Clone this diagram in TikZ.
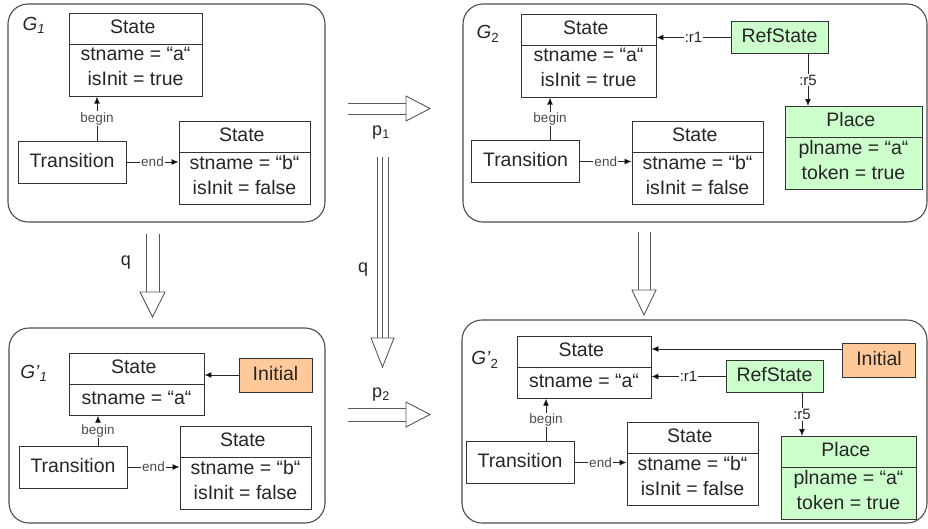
\documentclass[tikz,border=0pt]{standalone}
\usepackage{fontspec}
\setmainfont{Liberation Sans}
\setsansfont{Liberation Sans}
\RequirePackage{xcolor}
\tikzset{every picture/.style={/utils/exec={\sffamily}}}
\usetikzlibrary{calc}
\usetikzlibrary{shapes.multipart,arrows.meta}

\definecolor{placegreen}{HTML}{CCFFCC}
\definecolor{initorange}{HTML}{FFC99A}

\tikzset{
  panel/.style={draw=black!70, line width=1.1pt, rounded corners=20pt},
  obj/.style={draw=black!80, line width=0.9pt, text=black!85,
    font=\fontsize{19.5}{25}\selectfont, align=center,
    inner xsep=3pt, inner ysep=2.5pt,
    execute at begin node=\strut, execute at end node=\strut},
  cls/.style={obj, rectangle split, rectangle split parts=2, anchor=north},
  stbox/.style={cls, minimum width=133pt},
  plbox/.style={cls, fill=placegreen, minimum width=137pt},
  trbox/.style={obj, minimum width=108pt, minimum height=42pt},
  refbox/.style={obj, fill=placegreen, minimum width=97pt, minimum height=32pt},
  initbox/.style={obj, fill=initorange, minimum width=73pt, minimum height=34pt},
  conn/.style={draw=black!85, line width=0.8pt, -{Latex[length=7pt,width=6pt]}},
  lbl/.style={fill=white, inner sep=1pt, text=black!70, font=\fontsize{13.5}{14}\selectfont},
  glabel/.style={text=black!85, font=\fontsize{19}{20}\selectfont},
  bigline/.style={draw=black!65, line width=0.9pt},
  bighead/.style={draw=black!65, line width=0.9pt, fill=white, line join=miter},
  biglbl/.style={text=black!85, font=\fontsize{18}{18}\selectfont}
}

\begin{document}
\begin{tikzpicture}[x=1pt, y=-1pt]
  \useasboundingbox (0,0) rectangle (928,528);

  % G_1
  \draw [panel] (8,4) rectangle (325,222);
  \node [glabel] (g1) at (34,25) {\textit{G}\textsubscript{\textit{1}}};
  \node [stbox] (stA1) at (135.5,13) {State \nodepart{two} stname = “a“\\ isInit = true};
  \node [trbox] (tr1) at (72,162) {Transition};
  \node [stbox, minimum width=131pt] (stB1) at (244.5,121) {State \nodepart{two} stname = “b“\\ isInit = false};
  \draw [conn] ([xshift=25pt]tr1.north) -- ([xshift=25pt]tr1.north |- stA1.south) node[lbl, midway] {begin};
  \draw [conn] (tr1.east) -- (tr1.east -| stB1.west) node[lbl, midway] {end};

  % G_2
  \draw [panel] (463,4) rectangle (927,222);
  \node [glabel] (g2) at (488,34) {\textit{G}\textsubscript{2}};
  \node [stbox, minimum width=135pt] (stA2) at (588.5,14) {State \nodepart{two} stname = “a“\\ isInit = true};
  \node [refbox] (rs2) at (779.5,37.5) {RefState};
  \node [plbox] (pl2) at (853.5,106) {Place \nodepart{two} plname = “a“\\ token = true};
  \node [trbox] (tr2) at (525.5,161.5) {Transition};
  \node [stbox, minimum width=131pt] (stB2) at (697.5,121) {State \nodepart{two} stname = “b“\\ isInit = false};
  \draw [conn] ([xshift=24.5pt]tr2.north) -- ([xshift=24.5pt]tr2.north |- stA2.south) node[lbl, midway] {begin};
  \draw [conn] (tr2.east) -- (tr2.east -| stB2.west) node[lbl, midway] {end};
  \draw [conn] (rs2.west) -- (rs2.west -| stA2.east) node[lbl, midway, text=black!85, font=\fontsize{15}{15}\selectfont] {:r1};
  \draw [conn] ([xshift=28.5pt]rs2.south) -- ([xshift=28.5pt]rs2.south |- pl2.north) node[lbl, midway, text=black!85, font=\fontsize{15}{15}\selectfont] {:r5};

  % G'_1
  \draw [panel] (9,328) rectangle (325,523);
  \node [glabel] (g3) at (34,373) {\textit{G’}\textsubscript{\textit{1}}};
  \node [stbox, minimum width=135pt] (stA3) at (136.5,353) {State \nodepart{two} stname = “a“};
  \node [initbox] (in3) at (275.5,375) {Initial};
  \node [trbox] (tr3) at (73,467) {Transition};
  \node [stbox, minimum width=131pt] (stB3) at (245.5,426) {State \nodepart{two} stname = “b“\\ isInit = false};
  \draw [conn] ([xshift=25pt]tr3.north) -- ([xshift=25pt]tr3.north |- stA3.south) node[lbl, midway] {begin};
  \draw [conn] (tr3.east) -- (tr3.east -| stB3.west) node[lbl, midway] {end};
  \draw [conn] (in3.west) -- (in3.west -| stA3.east);

  % G'_2
  \draw [panel] (462,320) rectangle (927,523);
  \node [glabel] (g4) at (485,360) {\textit{G’}\textsubscript{2}};
  \node [stbox, minimum width=134pt] (stA4) at (584,336) {State \nodepart{two} stname = “a“};
  \node [initbox] (in4) at (879,360.5) {Initial};
  \node [refbox] (rs4) at (774.5,376.5) {RefState};
  \node [plbox, minimum width=135pt] (pl4) at (848.5,436) {Place \nodepart{two} plname = “a“\\ token = true};
  \node [trbox] (tr4) at (520,462.5) {Transition};
  \node [stbox, minimum width=131pt] (stB4) at (692.5,422) {State \nodepart{two} stname = “b“\\ isInit = false};
  \draw [conn] ([xshift=26pt]tr4.north) -- ([xshift=26pt]tr4.north |- stA4.south) node[lbl, midway] {begin};
  \draw [conn] (tr4.east) -- (tr4.east -| stB4.west) node[lbl, midway] {end};
  \draw [conn] ([yshift=11.5pt]in4.west) -- ([yshift=11.5pt]in4.west -| stA4.east);
  \draw [conn] (rs4.west) -- (rs4.west -| stA4.east) node[lbl, midway, text=black!85, font=\fontsize{15}{15}\selectfont] {:r1};
  \draw [conn] ([xshift=27.5pt]rs4.south) -- ([xshift=27.5pt]rs4.south |- pl4.north) node[lbl, midway, text=black!85, font=\fontsize{15}{15}\selectfont] {:r5};

  % hollow arrows between the graphs
  \draw [bigline] (348,103) -- (406,103) (348,114) -- (406,114);
  \draw [bighead] (406,96) -- (430,108.5) -- (406,121) -- cycle;
  \node [biglbl] (p1) at (381,133) {p\textsubscript{1}};

  \draw [bigline] (348,408) -- (406,408) (348,421) -- (406,421);
  \draw [bighead] (406,402) -- (430,414.5) -- (406,427) -- cycle;
  \node [biglbl] (p2) at (381,395) {p\textsubscript{2}};

  \foreach \x in {377,382.5,388} {
    \draw [bigline] (\x,157) -- (\x,338);
  }
  \draw [bighead] (371,338) -- (382.5,367) -- (394,338) -- cycle;
  \node [biglbl] (q2) at (363,270) {q};

  \draw [bigline] (146,234) -- (146,292) (159,234) -- (159,292);
  \draw [bighead] (140,292) -- (152.5,317) -- (165,292) -- cycle;
  \node [biglbl] (q1) at (126,263) {q};

  \draw [bigline] (638,232) -- (638,290) (650,232) -- (650,290);
  \draw [bighead] (632,290) -- (644,315) -- (656,290) -- cycle;

\end{tikzpicture}
\end{document}
